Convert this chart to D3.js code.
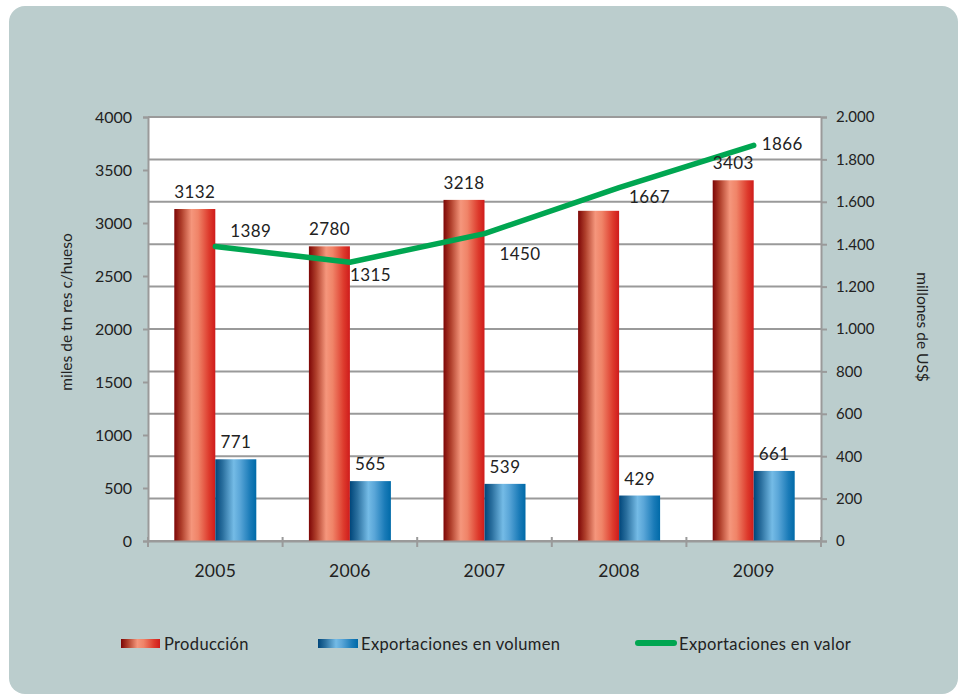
<!DOCTYPE html>
<html><head><meta charset="utf-8">
<script src="https://cdn.jsdelivr.net/npm/d3@7"></script>
<style>
html,body{margin:0;padding:0;background:#fff;}
text{font-family:Lato,"Open Sans",sans-serif;fill:#222;}
</style></head>
<body>
<svg id="chart" width="962" height="698"></svg>
<script>
const years = ["2005","2006","2007","2008","2009"];
const produccion = [3132, 2780, 3218, 3115, 3403];
const produccionLabelShown = [true, true, true, false, true];
const exportVolumen = [771, 565, 539, 429, 661];
const exportValor = [1389, 1315, 1450, 1667, 1866];
const leftTicks = [0,500,1000,1500,2000,2500,3000,3500,4000];
const rightTicks = [0,200,400,600,800,1000,1200,1400,1600,1800,2000];
const seriesNames = ["Producción","Exportaciones en volumen","Exportaciones en valor"];
// label placement for line values (dx, dy relative to the point)
const valorLabelOffset = [[15,-10],[0,19],[15,26],[10,15],[8,5]];

const svg = d3.select("#chart");
const m = {left:148, right:821, top:117, bottom:541};

svg.append("rect").attr("x",9).attr("y",6).attr("width",949).attr("height",688)
  .attr("rx",16).attr("fill","#bbcdcd");

const defs = svg.append("defs");
function grad(id, stops){
  const g = defs.append("linearGradient").attr("id",id).attr("x1","0%").attr("x2","100%").attr("y1","0%").attr("y2","0%");
  stops.forEach(s=>g.append("stop").attr("offset",s[0]).attr("stop-color",s[1]));
}
grad("gRed",[["0%","#7d0606"],["18%","#b0402c"],["42%","#f5967c"],["58%","#f08468"],["85%","#dd3a2c"],["100%","#cf1b1b"]]);
grad("gBlue",[["0%","#00467a"],["18%","#2a6f9e"],["45%","#74bbe6"],["60%","#5aa6d8"],["85%","#1a7bb8"],["100%","#006aa8"]]);

const x = d3.scaleBand().domain(years).range([m.left,m.right]);
const yL = d3.scaleLinear().domain([0,4000]).range([m.bottom,m.top]);
const yR = d3.scaleLinear().domain([0,2000]).range([m.bottom,m.top]);

// plot area
svg.append("rect").attr("x",m.left).attr("y",m.top).attr("width",m.right-m.left).attr("height",m.bottom-m.top).attr("fill","#fff");

// gridlines (right axis)
svg.append("g").selectAll("line").data(rightTicks).join("line")
  .attr("x1",m.left).attr("x2",m.right).attr("y1",d=>yR(d)).attr("y2",d=>yR(d))
  .attr("stroke","#9a9a9a").attr("stroke-width",2);

const bw = 41;
const gBars = svg.append("g");
gBars.selectAll(".p").data(produccion).join("rect")
  .attr("x",(d,i)=>x(years[i])+x.bandwidth()/2-bw).attr("width",bw)
  .attr("y",d=>yL(d)).attr("height",d=>yL(0)-yL(d)).attr("fill","url(#gRed)");
gBars.selectAll(".v").data(exportVolumen).join("rect")
  .attr("x",(d,i)=>x(years[i])+x.bandwidth()/2).attr("width",bw)
  .attr("y",d=>yL(d)).attr("height",d=>yL(0)-yL(d)).attr("fill","url(#gBlue)");

// axes
const axisColor = "#9a9a9a";
const gl = svg.append("g").attr("transform",`translate(${m.left},0)`)
  .call(d3.axisLeft(yL).tickValues(leftTicks).tickSize(5).tickPadding(11).tickFormat(d3.format("d")));
const gr = svg.append("g").attr("transform",`translate(${m.right},0)`)
  .call(d3.axisRight(yR).tickValues(rightTicks).tickSize(6).tickPadding(9).tickFormat(d=>d3.format(",")(d).replace(/,/g,".")));
const gb = svg.append("g").attr("transform",`translate(0,${m.bottom})`)
  .call(d3.axisBottom(x).tickSize(0).tickPadding(24));
[gl,gr,gb].forEach(g=>{
  g.select(".domain").attr("stroke",axisColor).attr("stroke-width",2);
  g.selectAll(".tick line").attr("stroke",axisColor).attr("stroke-width",2);
  g.selectAll("text").attr("font-family","Lato").attr("fill","#222");
});
gl.selectAll("text").attr("font-size",16);
gr.selectAll("text").attr("font-size",15);
gb.selectAll("text").attr("font-size",17.5).attr("letter-spacing",0.3);
// category boundary ticks
const bounds = years.map(y=>x(y)).concat([m.right]);
svg.append("g").selectAll("line").data(bounds).join("line")
  .attr("x1",d=>d).attr("x2",d=>d).attr("y1",m.bottom-4).attr("y2",m.bottom+6)
  .attr("stroke",axisColor).attr("stroke-width",2);

// line
const line = d3.line().x((d,i)=>x(years[i])+x.bandwidth()/2).y(d=>yR(d));
svg.append("path").datum(exportValor).attr("d",line).attr("fill","none")
  .attr("stroke","#00a651").attr("stroke-width",5.5).attr("stroke-linecap","round").attr("stroke-linejoin","round");

// bar labels
svg.append("g").selectAll("text").data(produccion.map((d,i)=>({v:d,i:i})).filter(o=>produccionLabelShown[o.i])).join("text")
  .attr("x",o=>x(years[o.i])+x.bandwidth()/2-bw/2)
  .attr("y",o=>yL(o.v)-11).attr("text-anchor","middle").attr("font-size",17).attr("letter-spacing",0.4).text(o=>o.v);
svg.append("g").selectAll("text").data(exportVolumen).join("text")
  .attr("x",(d,i)=>x(years[i])+x.bandwidth()/2+bw/2)
  .attr("y",d=>yL(d)-11).attr("text-anchor","middle").attr("font-size",17).attr("letter-spacing",0.4).text(d=>d);
svg.append("g").selectAll("text").data(exportValor).join("text")
  .attr("x",(d,i)=>x(years[i])+x.bandwidth()/2+valorLabelOffset[i][0])
  .attr("y",(d,i)=>yR(d)+valorLabelOffset[i][1]).attr("font-size",17).attr("letter-spacing",0.4).text(d=>d);

// axis titles
svg.append("text").attr("transform","translate(72,312) rotate(-90)").attr("text-anchor","middle")
  .attr("font-size",15.5).text("miles de tn res c/hueso");
svg.append("text").attr("transform","translate(917,327) rotate(90)").attr("text-anchor","middle")
  .attr("font-size",15.5).text("millones de US$");

// legend
const lg = svg.append("g");
const legX = [121, 318, 635];
lg.append("rect").attr("x",legX[0]).attr("y",639).attr("width",39).attr("height",9).attr("fill","url(#gRed)");
lg.append("rect").attr("x",legX[1]).attr("y",639).attr("width",40).attr("height",9).attr("fill","url(#gBlue)");
lg.append("line").attr("x1",legX[2]+3).attr("x2",legX[2]+39).attr("y1",643).attr("y2",643)
  .attr("stroke","#00a651").attr("stroke-width",6).attr("stroke-linecap","round");
lg.selectAll(".lt").data(seriesNames).join("text")
  .attr("x",(d,i)=>legX[i]+(i===2?44:43)).attr("y",650).attr("font-size",16.5).attr("letter-spacing",0.35).text(d=>d);
</script>
</body></html>
